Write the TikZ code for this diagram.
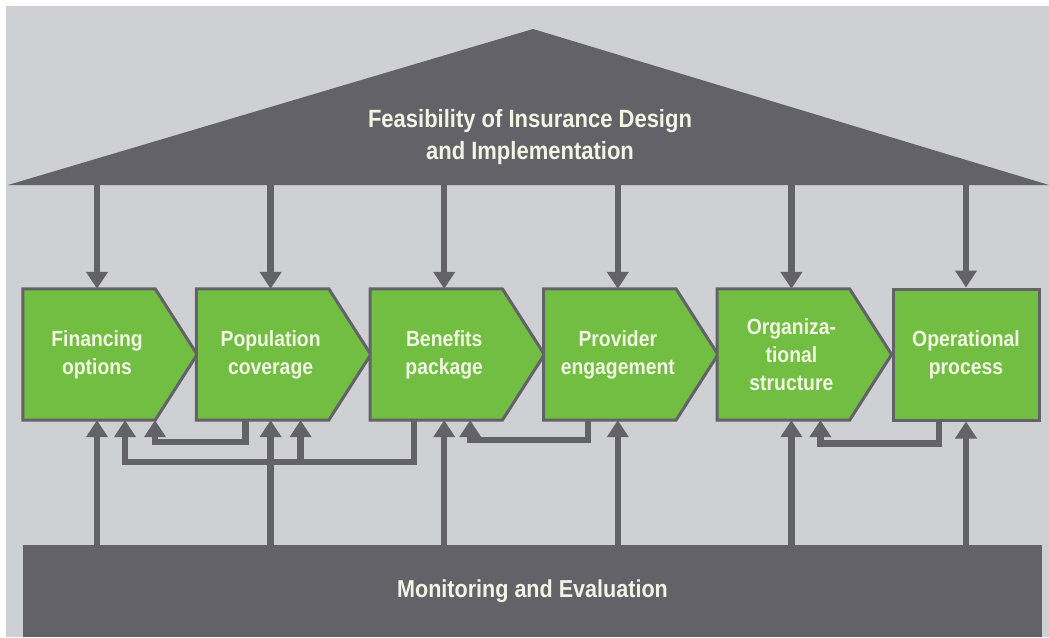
\documentclass[tikz,border=0pt]{standalone}
\usepackage{fontspec}
\newfontfamily\narrowfont{Liberation Sans}[FakeStretch=0.88]
\usetikzlibrary{positioning, arrows.meta, backgrounds}

\definecolor{bggray}{RGB}{207,208,212}
\definecolor{roofgray}{RGB}{99,98,104}
\definecolor{stagegreen}{RGB}{114,190,66}
\definecolor{labelwhite}{RGB}{242,245,228}

\tikzset{
    stage/.style={rectangle, minimum width=148pt, minimum height=131pt, align=center,
        text=labelwhite, font=\narrowfont\bfseries\fontsize{22}{28}\selectfont},
    laststage/.style={stage, minimum width=146pt, fill=stagegreen, draw=roofgray, line width=3pt},
    chevron/.style={fill=stagegreen, draw=roofgray, line width=3pt},
    flow/.style={draw=roofgray, line width=6.5pt, -{Triangle[width=21pt 0, length=17pt 0]}},
}

\begin{document}
\begin{tikzpicture}[x=1pt, y=-1pt, node distance=173.6pt, on grid]
        \useasboundingbox (0,0) rectangle (1049,637);

        % roof and floor
        \fill[roofgray] (8,185) -- (533,29) -- (1049,185) -- cycle;
        \coordinate (eave) at (0,183);
        \node[align=center, text=labelwhite, font=\narrowfont\bfseries\fontsize{25}{32}\selectfont](roof) at (530,137){Feasibility of Insurance Design\\and Implementation};
        \node[rectangle, fill=roofgray, minimum width=1019pt, minimum height=92pt, text=labelwhite, font=\narrowfont\bfseries\fontsize{24.5}{30}\selectfont](mon) at (532.5,591){Monitoring and Evaluation};

        % stages
        \node[stage](fin) at (97,354.5){Financing\\options};
        \node[stage, right = of fin](pop){Population\\coverage};
        \node[stage, right = of pop](ben){Benefits\\package};
        \node[stage, right = of ben](prov){Provider\\engagement};
        \node[stage, right = of prov](org){Organiza-\\tional\\structure};
        \node[laststage, right = 174.6pt of org](ops){Operational\\process};

        \begin{scope}[on background layer]
            \fill[white] (0,0) rectangle (1049,637);
            \fill[bggray] (6,6) rectangle (1049,637);
            \filldraw[chevron] (fin.north west) -- ([xshift=-16pt]fin.north east) -- ([xshift=26pt]fin.east) -- ([xshift=-16pt]fin.south east) -- (fin.south west) -- cycle;
            \filldraw[chevron] (pop.north west) -- ([xshift=-16pt]pop.north east) -- ([xshift=26pt]pop.east) -- ([xshift=-16pt]pop.south east) -- (pop.south west) -- cycle;
            \filldraw[chevron] (ben.north west) -- ([xshift=-16pt]ben.north east) -- ([xshift=26pt]ben.east) -- ([xshift=-16pt]ben.south east) -- (ben.south west) -- cycle;
            \filldraw[chevron] (prov.north west) -- ([xshift=-16pt]prov.north east) -- ([xshift=26pt]prov.east) -- ([xshift=-16pt]prov.south east) -- (prov.south west) -- cycle;
            \filldraw[chevron] (org.north west) -- ([xshift=-16pt]org.north east) -- ([xshift=26pt]org.east) -- ([xshift=-16pt]org.south east) -- (org.south west) -- cycle;
        \end{scope}

        % from the roof
        \draw[flow] (fin.north |- eave) -- (fin.north);
        \draw[flow] (pop.north |- eave) -- (pop.north);
        \draw[flow] (ben.north |- eave) -- (ben.north);
        \draw[flow] (prov.north |- eave) -- (prov.north);
        \draw[flow] (org.north |- eave) -- (org.north);
        \draw[flow] (ops.north |- eave) -- (ops.north);

        % from the floor
        \draw[flow] (fin.south |- mon.north) -- (fin.south);
        \draw[flow] (pop.south |- mon.north) -- (pop.south);
        \draw[flow] (ben.south |- mon.north) -- (ben.south);
        \draw[flow] (prov.south |- mon.north) -- (prov.south);
        \draw[flow] (org.south |- mon.north) -- (org.south);
        \draw[flow] (ops.south |- mon.north) -- (ops.south);

        % feedback
        \draw[flow] ([xshift=-25pt]pop.south) -- ++(0,22) -| ([xshift=58pt]fin.south);
        \draw[flow] ([xshift=-30pt]ben.south) -- ++(0,42) coordinate (benlow) -| ([xshift=28pt]fin.south);
        \draw[flow] ([xshift=30pt]pop.south |- benlow) -- ([xshift=30pt]pop.south);
        \draw[flow] ([xshift=-30pt]prov.south) -- ++(0,20) -| ([xshift=26pt]ben.south);
        \draw[flow] ([xshift=-27pt]ops.south) -- ++(0,22) -| ([xshift=29pt]org.south);

    \end{tikzpicture}
\end{document}
